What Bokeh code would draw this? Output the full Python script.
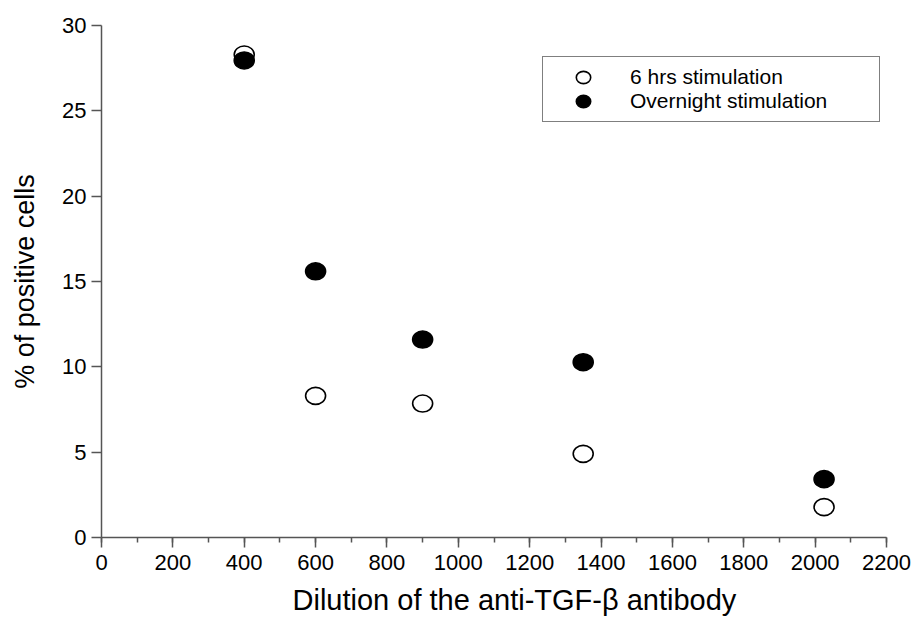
from bokeh.plotting import figure
from bokeh.models import Range1d, SingleIntervalTicker, Legend, LegendItem, Title
from bokeh.embed import file_html
from bokeh.resources import INLINE

# Data
dilution = [400, 600, 900, 1350, 2025]
six_hrs = [28.3, 8.3, 7.85, 4.9, 1.78]
overnight = [27.95, 15.6, 11.6, 10.27, 3.42]
series_labels = ["6 hrs stimulation", "Overnight stimulation"]
x_label = "Dilution of the anti-TGF-\u03b2 antibody"
y_label = "% of positive cells"

FONT = "Liberation Sans"
AXIS_COLOR = "#555555"

p = figure(width=916, height=630, output_backend="svg", toolbar_location=None,
           x_range=Range1d(0, 2200), y_range=Range1d(0, 30),
           min_border_left=101, min_border_right=30, min_border_top=25, min_border_bottom=93)
p.outline_line_color = None
p.xgrid.visible = False
p.ygrid.visible = False
p.background_fill_color = "white"
p.border_fill_color = "white"

r_open = p.ellipse(x=dilution, y=six_hrs, width=20, height=17,
                   width_units="screen", height_units="screen",
                   fill_color="white", line_color="black", line_width=1.6)
r_fill = p.ellipse(x=dilution, y=overnight, width=20, height=17,
                   width_units="screen", height_units="screen",
                   fill_color="black", line_color="black", line_width=1.6)

xa = p.xaxis[0]
xa.ticker = SingleIntervalTicker(interval=200, num_minor_ticks=2)
ya = p.yaxis[0]
ya.ticker = SingleIntervalTicker(interval=5, num_minor_ticks=0)

for ax in (xa, ya):
    ax.axis_line_color = AXIS_COLOR
    ax.axis_line_width = 1.5
    ax.major_tick_line_color = AXIS_COLOR
    ax.major_tick_line_width = 1.5
    ax.minor_tick_line_color = AXIS_COLOR
    ax.minor_tick_line_width = 1.5
    ax.major_tick_in = 0
    ax.major_tick_out = 10
    ax.minor_tick_in = 0
    ax.minor_tick_out = 5
    ax.major_label_text_font = FONT
    ax.major_label_text_font_size = "22px"
    ax.major_label_text_color = "black"
    ax.axis_label_text_font = FONT
    ax.axis_label_text_font_style = "normal"
    ax.axis_label_text_color = "black"

ya.minor_tick_line_color = None
xa.major_label_standoff = 7
ya.major_label_standoff = 5
ya.axis_label = y_label
ya.axis_label_text_font_size = "27px"
ya.axis_label_standoff = 19

x_title = Title(text=x_label, align="left", offset=191, standoff=22,
                vertical_align="top",
                text_font=FONT, text_font_size="29px", text_font_style="normal",
                text_color="black")
p.add_layout(x_title, "below")

legend = Legend(items=[LegendItem(label=series_labels[0], renderers=[r_open]),
                       LegendItem(label=series_labels[1], renderers=[r_fill])],
                location=(441, 415), margin=0, padding=8, spacing=0,
                glyph_width=64, glyph_height=18, label_height=22,
                label_standoff=15, label_width=241,
                label_text_font=FONT, label_text_font_size="21px",
                label_text_color="black",
                border_line_color="black", border_line_width=1,
                background_fill_color="white", background_fill_alpha=1)
p.add_layout(legend)

open("out.html", "w").write(file_html(p, INLINE))
